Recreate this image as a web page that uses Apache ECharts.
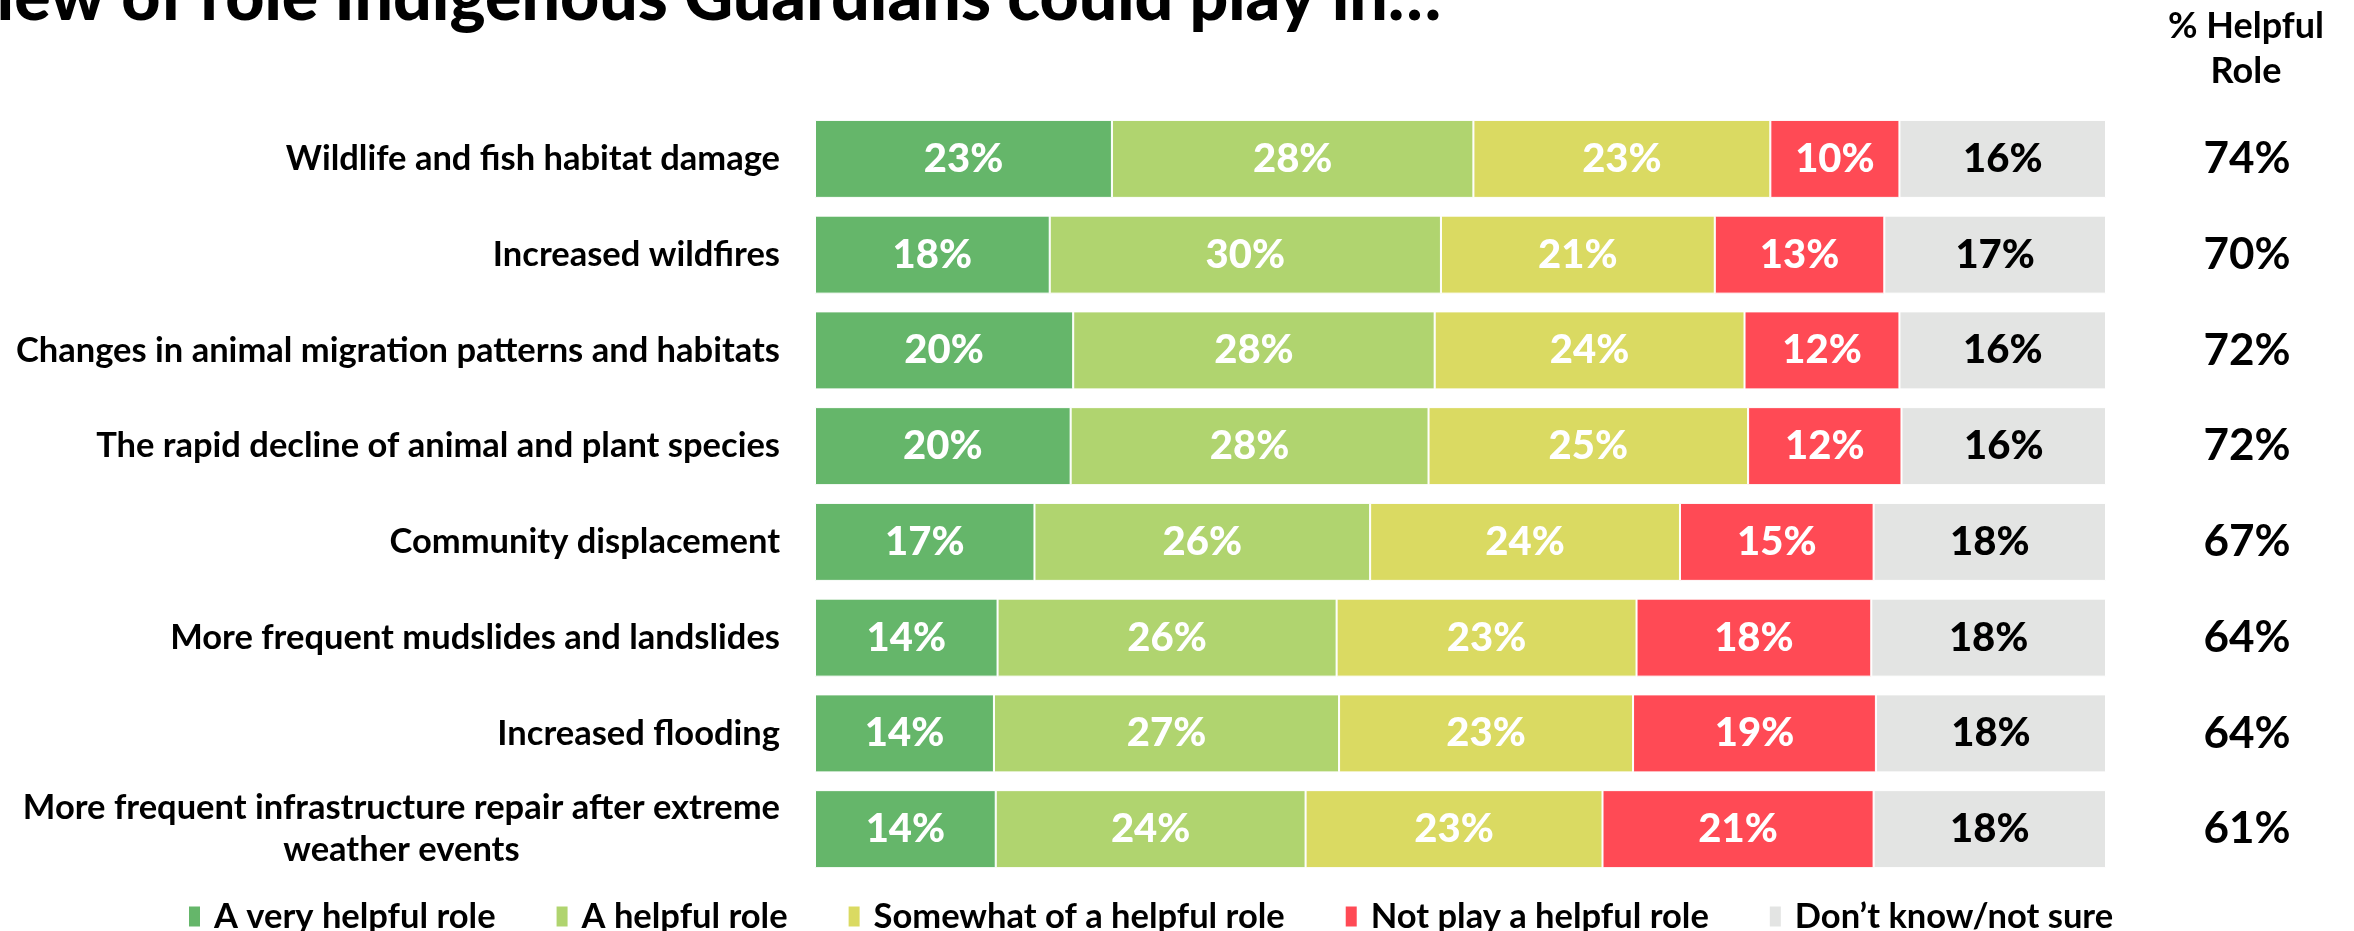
<!DOCTYPE html>
<html>
<head>
<meta charset="utf-8">
<script src="https://cdn.jsdelivr.net/npm/echarts@6/dist/echarts.min.js"></script>
<style>html,body{margin:0;padding:0;background:#fff;}#c{width:2354px;height:931px;}</style>
</head>
<body>
<div id="c"></div>
<script>
const titleText = 'View of role Indigenous Guardians could play in…';
const categories = [
  'Wildlife and fish habitat damage',
  'Increased wildfires',
  'Changes in animal migration patterns and habitats',
  'The rapid decline of animal and plant species',
  'Community displacement',
  'More frequent mudslides and landslides',
  'Increased flooding',
  'More frequent infrastructure repair after extreme\nweather events'
];
const seriesNames = ['A very helpful role','A helpful role','Somewhat of a helpful role','Not play a helpful role','Don\u2019t know/not sure'];
const veryHelpful   = [23, 18, 20, 20, 17, 14, 14, 14];
const helpful       = [28, 30, 28, 28, 26, 26, 27, 24];
const somewhat      = [23, 21, 24, 25, 24, 23, 23, 23];
const notHelpful    = [10, 13, 12, 12, 15, 18, 19, 21];
const dontKnow      = [16, 17, 16, 16, 18, 18, 18, 18];
const helpfulTotal  = [74, 70, 72, 72, 67, 64, 64, 61];
const colors = ['#65B66A', '#B0D46F', '#DADA62', '#FF4A55', '#E3E4E3'];
const labelColors = ['#fff', '#fff', '#fff', '#fff', '#000'];

const raw = [veryHelpful, helpful, somewhat, notHelpful, dontKnow];
const rowSums = categories.map((_, i) => raw.reduce((s, arr) => s + arr[i], 0));

const chart = echarts.init(document.getElementById('c'));
const FONT = 'Lato';
chart.setOption({
  animation: false,
  backgroundColor: '#fff',
  graphic: [
    { type: 'text', x: 1441, y: -2,
      style: { text: titleText, font: '900 68px Lato', fill: '#000', align: 'right', verticalAlign: 'middle' } },
    { type: 'text', x: 2246, y: 49,
      style: { text: '% Helpful\nRole', font: 'bold 36px Lato', fill: '#000', align: 'center', verticalAlign: 'middle', lineHeight: 45 } }
  ],
  legend: {
    left: 182, top: 894,
    itemWidth: 13, itemHeight: 22, itemGap: 59,
    icon: 'rect',
    textStyle: { fontFamily: FONT, fontWeight: 'bold', fontSize: 34.5, color: '#000', padding: [0, 0, 0, 8] },
    data: seriesNames
  },
  grid: { left: 815, right: 248, top: 111, bottom: 54 },
  xAxis: { type: 'value', min: 0, max: 100, show: false },
  yAxis: [
    { type: 'category', inverse: true, data: categories,
      axisLine: { show: false }, axisTick: { show: false },
      axisLabel: { margin: 35, align: 'right', fontFamily: FONT, fontWeight: 'bold', fontSize: 34.5, color: '#000', lineHeight: 42,
        formatter: v => v.split('\n').map(l => '{c|' + l + '}').join('\n'),
        rich: { c: { align: 'center', fontFamily: FONT, fontWeight: 'bold', fontSize: 34.5, color: '#000', lineHeight: 42 } } } },
    { type: 'category', inverse: true, position: 'right', data: helpfulTotal.map(v => v + '%'),
      axisLine: { show: false }, axisTick: { show: false },
      axisLabel: { margin: 141, align: 'center', fontFamily: FONT, fontWeight: 'bold', fontSize: 44, color: '#000' } }
  ],
  series: raw.map((arr, si) => ({
    name: seriesNames[si],
    type: 'bar',
    stack: 'total',
    yAxisIndex: 0,
    barWidth: 78,
    itemStyle: { color: colors[si], borderColor: '#fff', borderWidth: 1 },
    label: { show: true, position: 'inside', color: labelColors[si], fontFamily: FONT, fontWeight: 900, fontSize: 40,
      formatter: p => raw[si][p.dataIndex] + '%' },
    data: arr.map((v, i) => v / rowSums[i] * 100)
  }))
});
</script>
</body>
</html>
